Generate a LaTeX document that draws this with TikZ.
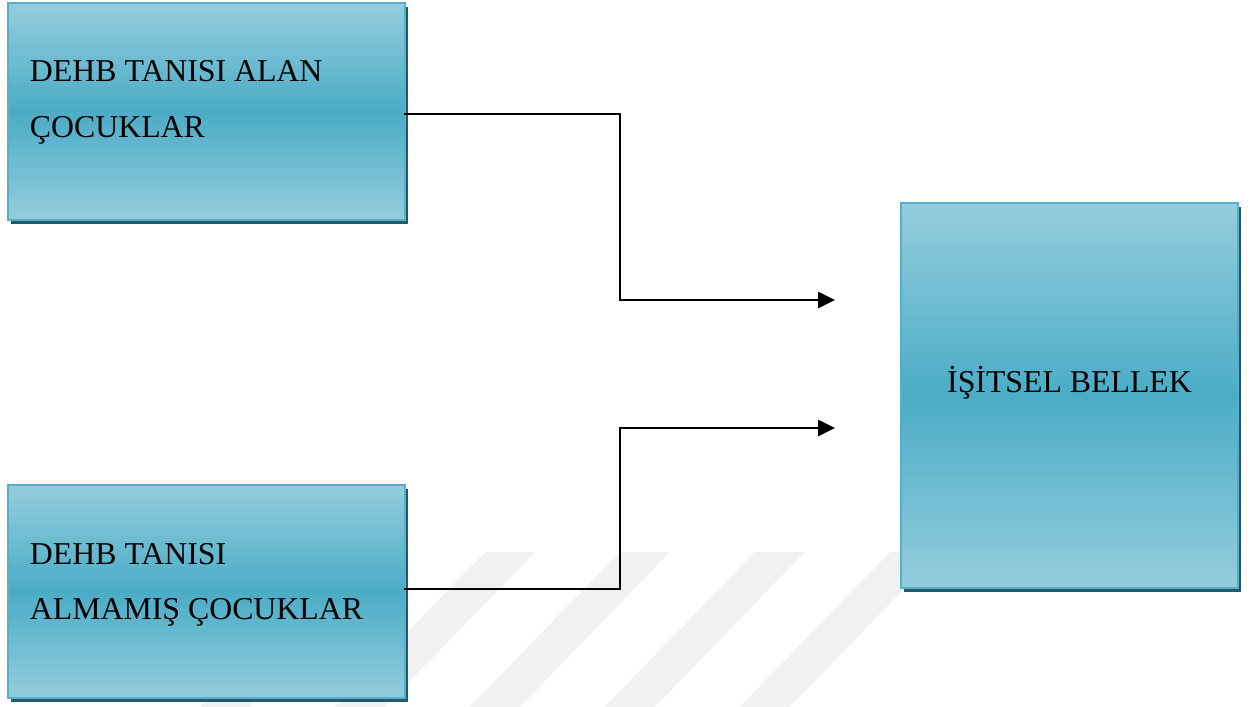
\documentclass[tikz,border=0pt]{standalone}
\usepackage{fontspec}
\setmainfont{Liberation Serif}
\usetikzlibrary{arrows.meta,shadows,calc}
\definecolor{boxlight}{RGB}{148,205,221}
\definecolor{boxmid}{RGB}{75,172,198}
\definecolor{boxedge}{RGB}{84,176,204}
\definecolor{boxshadow}{RGB}{36,90,104}
\definecolor{wmark}{RGB}{241,241,241}
\tikzset{
  box/.style={draw=boxedge, line width=2pt, inner sep=0pt, outer sep=0pt,
    top color=boxlight, bottom color=boxlight, middle color=boxmid,
    drop shadow={shadow xshift=3pt, shadow yshift=-3.5pt, fill=boxshadow, opacity=1}},
  lbl/.style={inner sep=0pt, outer sep=0pt, font=\fontsize{31.8}{38}\selectfont},
  conn/.style={line width=2.6pt, draw=black, -{Triangle[length=17pt,width=16pt]}},
  stripe/.style={fill=wmark, draw=none}
}
\begin{document}
\begin{tikzpicture}[x=1pt,y=-1pt]
\fill[white] (0,0) rectangle (1251,707);
\useasboundingbox (0,0) rectangle (1251,707);
% faint watermark stripes
\begin{scope}
\clip (0,0) rectangle (1251,707);
\foreach \s in {350,485,620,755,890}{
  \fill[stripe] (\s,552) -- (\s+50,552) -- (\s+50-160,717) -- (\s-160,717) -- cycle;
}
\end{scope}
% boxes
\node[box, minimum width=397pt, minimum height=217pt] (b1) at (206.5,111.5) {};
\node[box, minimum width=397pt, minimum height=213pt] (b2) at (206.5,591.5) {};
\node[box, minimum width=337pt, minimum height=385pt] (b3) at (1069.5,395.5) {};
% texts
\node[lbl, anchor=base west] (t1a) at (30,81) {DEHB TANISI ALAN};
\node[lbl, anchor=base west] (t1b) at (30,137) {ÇOCUKLAR};
\node[lbl, anchor=base west] (t2a) at (30,564) {DEHB TANISI};
\node[lbl, anchor=base west] (t2b) at (30,619) {ALMAMIŞ ÇOCUKLAR};
\node[lbl, anchor=base] (t3) at (1069.5,392) {İŞİTSEL BELLEK};
% connectors
\coordinate (e1) at (835,300);
\coordinate (e2) at (835,428);
\draw[conn] ($(b1.east)+(-1,2.5)$) -- ++(216,0) |- (e1);
\draw[conn] ($(b2.east)+(-1,-2.5)$) -- ++(216,0) |- (e2);
\end{tikzpicture}
\end{document}
